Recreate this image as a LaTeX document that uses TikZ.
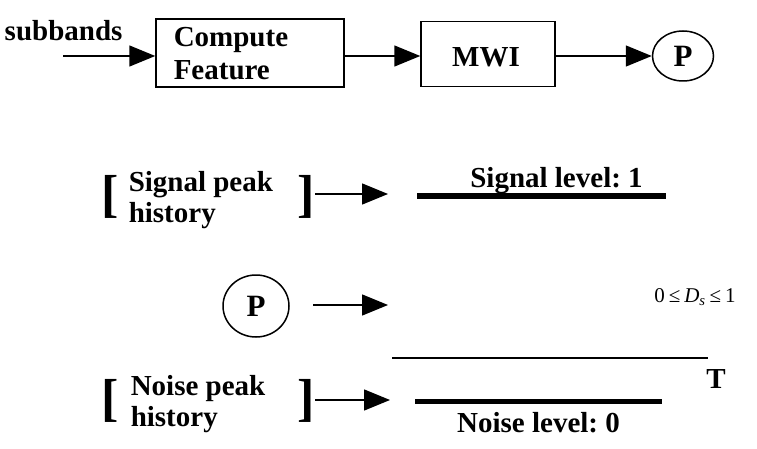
\documentclass[tikz,border=0pt]{standalone}
\usepackage{fontspec}
\setmainfont{Liberation Serif}
\usetikzlibrary{arrows.meta,positioning,shapes.geometric}
\frenchspacing

\begin{document}
\begin{tikzpicture}[x=1pt,y=-1pt,line width=1.5pt,
  txt/.style={font=\fontsize{29}{33}\selectfont\bfseries,inner sep=0pt},
  blk/.style={draw,rectangle,line width=1.5pt,txt,inner sep=0pt},
  pnode/.style={draw,ellipse,line width=1.5pt,inner sep=0pt,font=\fontsize{31}{31}\selectfont\bfseries},
  brk/.style={font=\fontsize{52}{52}\selectfont\bfseries,inner sep=0pt},
  hist/.style={txt,align=left,font=\fontsize{29}{31}\selectfont\bfseries},
  arr/.style={-{Triangle[length=26pt,width=21pt]}},
  level/.style={line width=5pt}]
\useasboundingbox (0,0) rectangle (757,449);

% top chain
\node[txt,anchor=base west] (sub) at (4,41) {subbands};
\coordinate (in) at (63,56);
\node[blk,minimum width=188pt,minimum height=68pt] (feat) at (250,53) {};
\node[txt,align=left,anchor=west] (feattxt) at (173,54) {Compute\\Feature};
\node[blk,minimum width=134pt,minimum height=65pt] (mwi) at (488,54) {};
\node[txt] (mwitxt) at (486,57) {MWI};
\node[pnode,minimum width=61pt,minimum height=50pt] (p1) at (683,56) {P};

\draw[arr] (in) -- (feat.west |- in);
\draw[arr] (feat.east |- in) -- (mwi.west |- in);
\draw[arr] (mwi.east |- p1) -- (p1.west);

% signal peak
\node[brk] (sl) at (110,197) {[};
\node[hist,anchor=west] (sig) at (128,200) {Signal peak\\history};
\node[brk] (sr) at (306,197) {]};
\coordinate (sa) at (388,194);
\draw[arr] (sr.east |- sa) -- (sa);
\coordinate (s1) at (417,196);
\coordinate (s2) at (666,196);
\draw[level] (s1) -- (s2) node[midway,above=0pt,xshift=15pt,txt] (slev) {Signal level: 1};

% peak P
\node[pnode,minimum width=66pt,minimum height=62pt] (p2) at (256,306) {P};
\coordinate (pa) at (388,305);
\draw[arr] (313,305) coordinate (pb) -- (pa);
\node[inner sep=0pt,font=\fontsize{21}{21}\selectfont] (ds) at (695,297)
  {0\hspace{4pt}≤\hspace{4pt}\textit{D}\textsubscript{\textit{s}}\hspace{4pt}≤\hspace{4pt}1};

% threshold
\coordinate (t1) at (392,358);
\coordinate (t2) at (708,358);
\draw[line width=1.2pt] (t1) -- (t2);
\node[txt] (thr) at (716,379) {T};

% noise peak
\node[brk] (nl) at (110,401) {[};
\node[hist,anchor=west] (noi) at (130,404) {Noise peak\\history};
\node[brk] (nr) at (306,401) {]};
\coordinate (na) at (390,400);
\draw[arr] (nr.east |- na) -- (na);
\coordinate (n1) at (415,401);
\coordinate (n2) at (662,401);
\draw[level] (n1) -- (n2) node[midway,below=9pt,txt] (nlev) {Noise level: 0};
\end{tikzpicture}
\end{document}
